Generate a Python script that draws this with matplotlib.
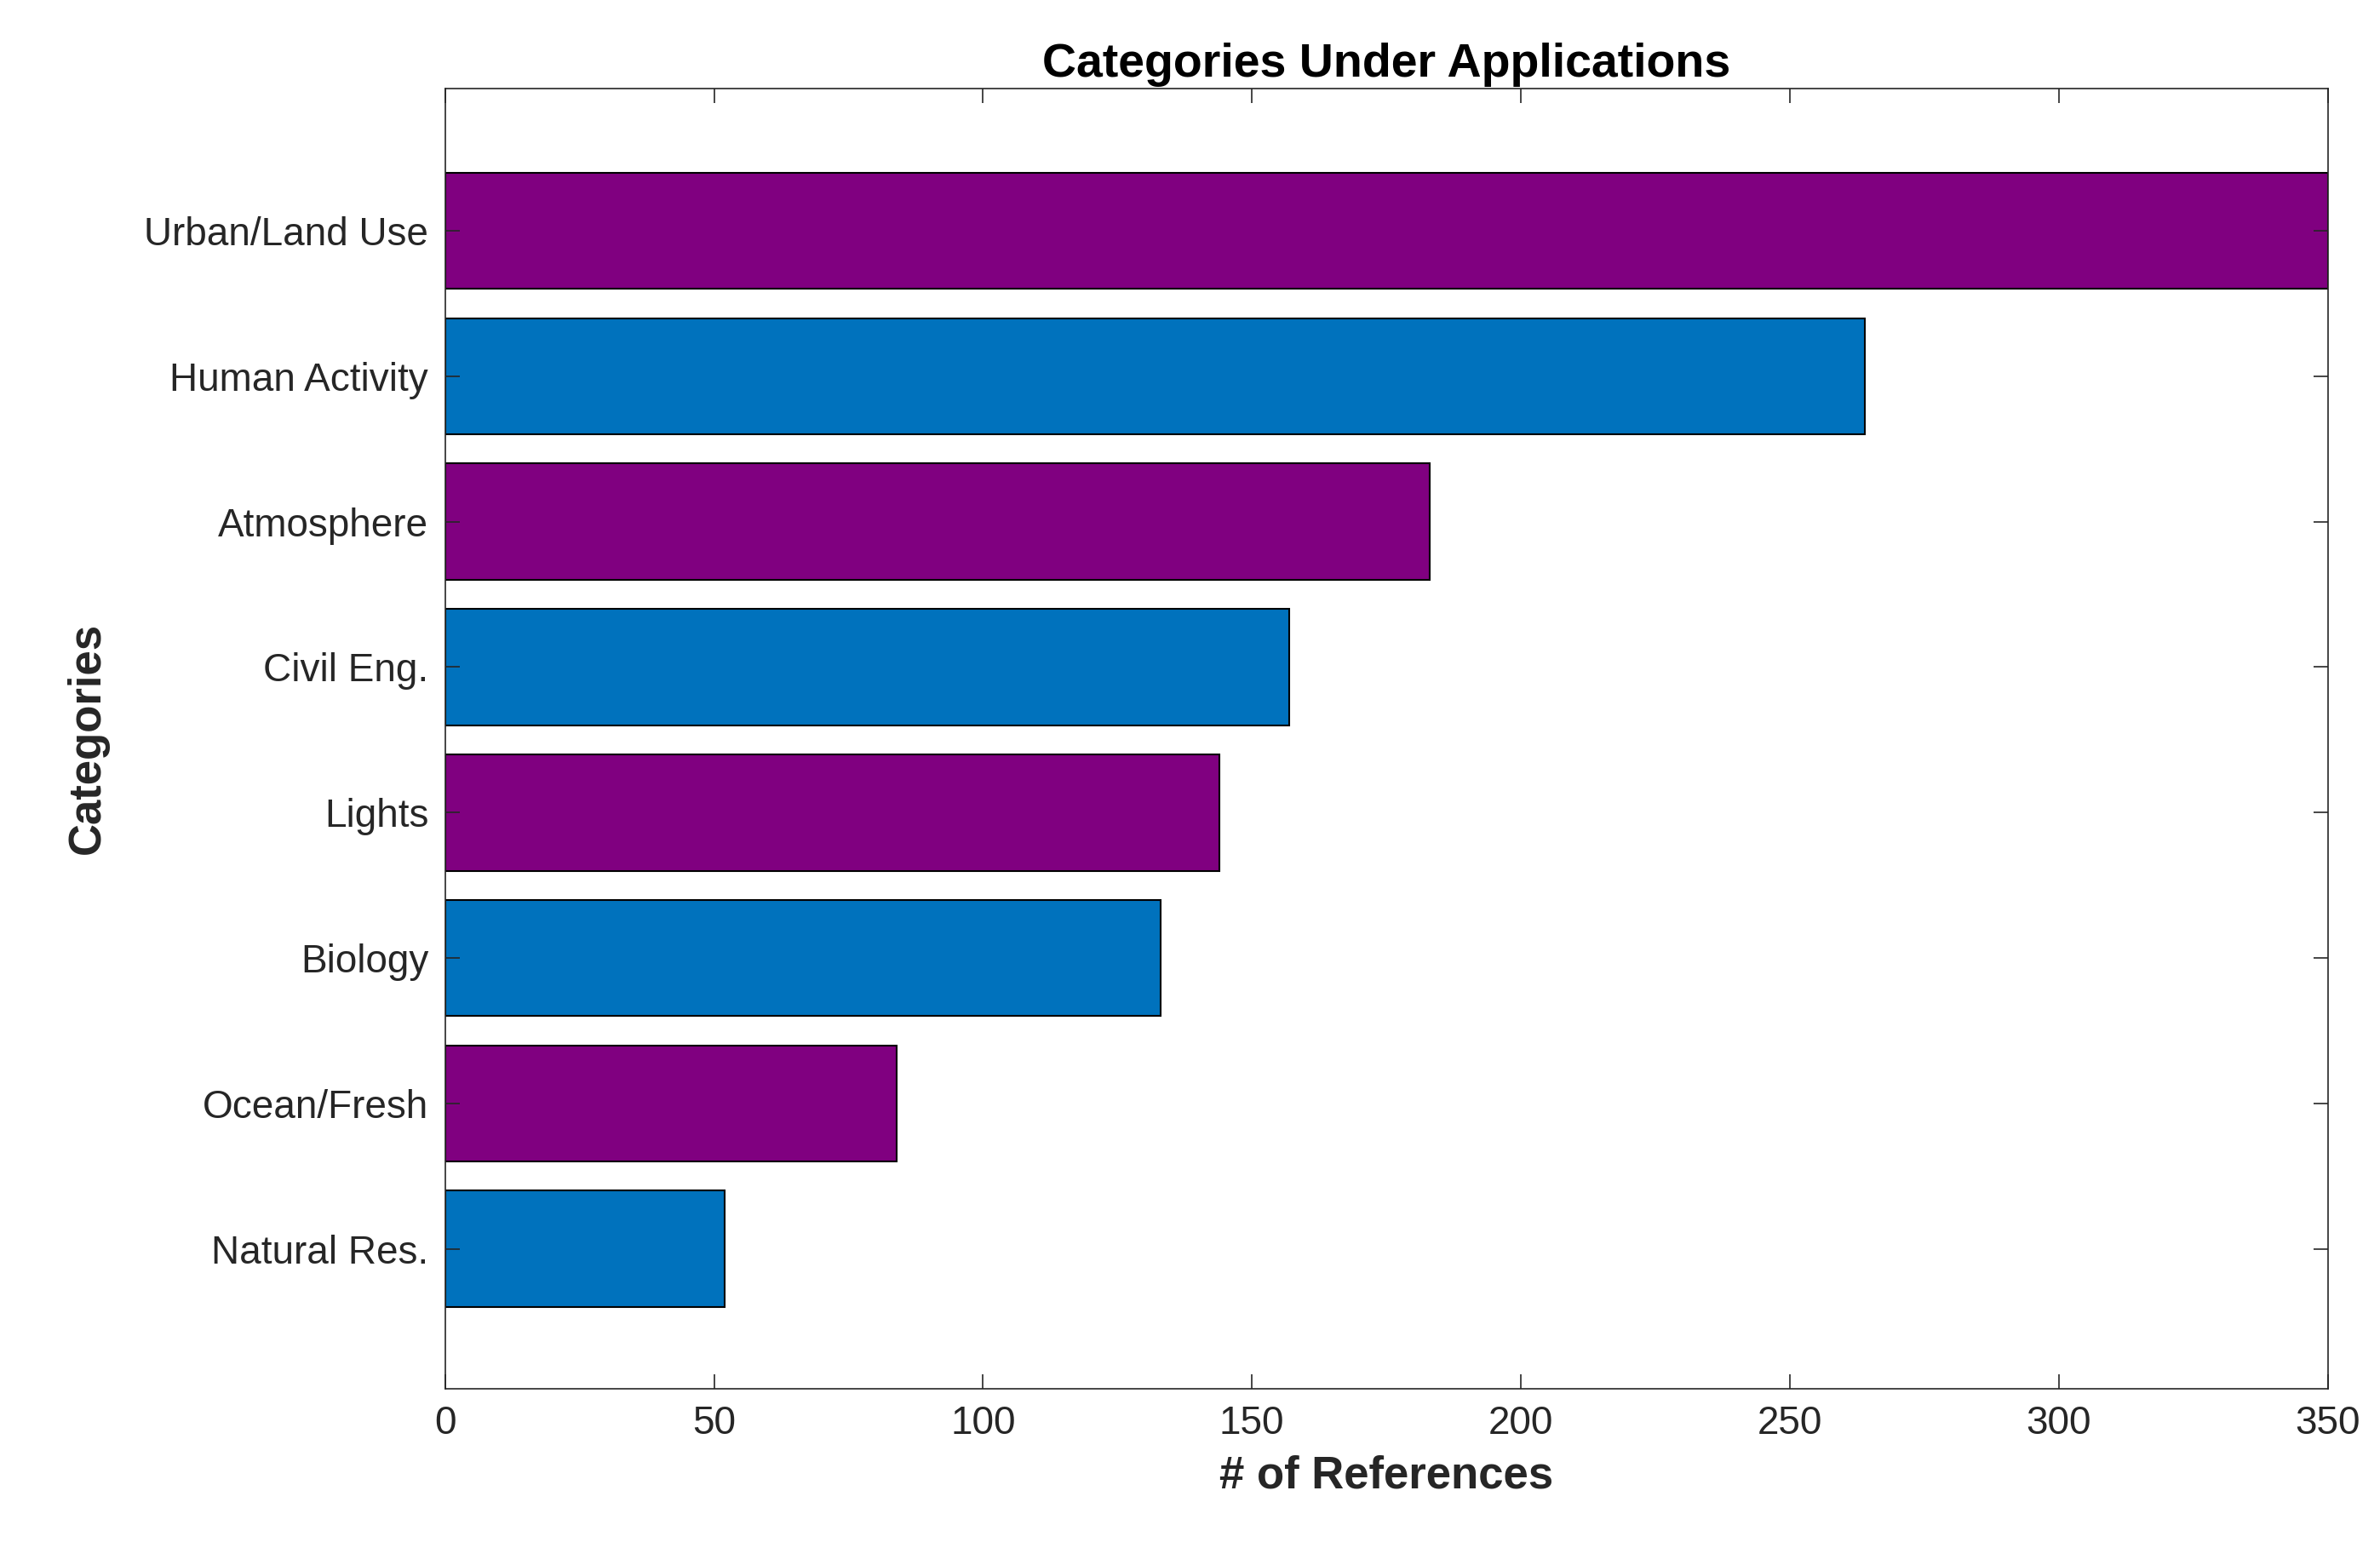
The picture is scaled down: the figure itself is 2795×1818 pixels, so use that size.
import matplotlib
matplotlib.use("Agg")
import matplotlib.pyplot as plt

categories = ["Natural Res.", "Ocean/Fresh", "Biology", "Lights", "Civil Eng.", "Atmosphere", "Human Activity", "Urban/Land Use"]
values = [52, 84, 133, 144, 157, 183, 264, 350]
colors = ["#0072BD", "#800080"] * 4

plt.rcParams['font.family'] = ['Liberation Sans', 'DejaVu Sans']
fig = plt.figure(figsize=(27.95, 18.18), dpi=100)
ax = fig.add_axes([0.187, 0.103, 0.791, 0.84])
pos = list(range(1, len(categories) + 1))
ax.barh(pos, values, height=0.8, color=colors, edgecolor="black", linewidth=1.5)
ax.set_xlim(0, 350)
ax.set_ylim(0.04, 8.98)
ax.set_yticks(pos)
ax.set_yticklabels(categories)
ax.set_xticks(range(0, 351, 50))
ax.tick_params(axis='both', direction='in', length=12, width=1.2, labelsize=33, colors='#262626',
               top=True, right=True, pad=14)
for s in ax.spines.values():
    s.set_color('#262626'); s.set_linewidth(1.2)
ax.set_xlabel("# of References", fontsize=38, fontweight='bold', color='#262626', labelpad=10)
ax.set_ylabel("Categories", fontsize=38, fontweight='bold', color='#262626', labelpad=30)
ax.set_title("Categories Under Applications", fontsize=40, fontweight='bold', pad=10)
fig.savefig("out.png", dpi=100)
